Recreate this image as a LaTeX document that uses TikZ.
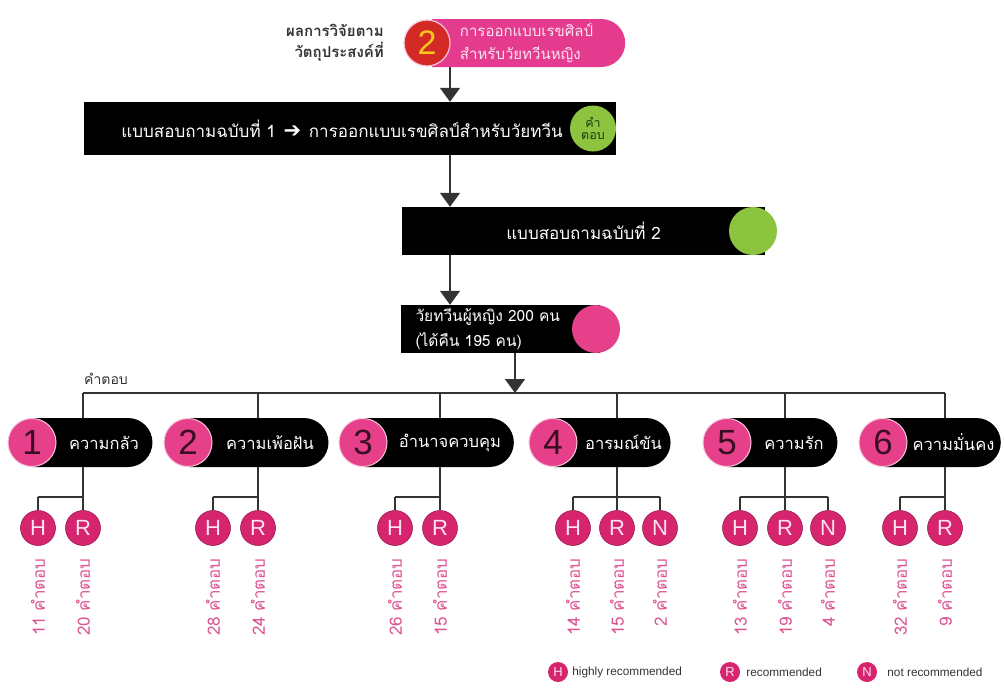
\documentclass[tikz,border=0pt]{standalone}
\usepackage{fontspec}
\setmainfont{Liberation Sans}
\newfontfamily\thai[Script=Thai]{Loma}
\newfontfamily\dejavu{DejaVu Sans}
\usetikzlibrary{arrows.meta,shapes.misc}

\definecolor{linegray}{HTML}{333333}
\definecolor{pillpink}{HTML}{E43B8E}
\definecolor{catpink}{HTML}{E6408B}
\definecolor{catedge}{HTML}{F7C6DC}
\definecolor{numdark}{HTML}{3A0E22}
\definecolor{anspink}{HTML}{D6246F}
\definecolor{ansedge}{HTML}{9C1A52}
\definecolor{anstext}{HTML}{FBE3EF}
\definecolor{countpink}{HTML}{DC5592}
\definecolor{leafgreen}{HTML}{8CC43F}
\definecolor{greentext}{HTML}{1F3A0C}
\definecolor{redball}{HTML}{D42A26}
\definecolor{goldnum}{HTML}{F7C81E}
\definecolor{labelgray}{HTML}{333333}
\definecolor{pilltext}{HTML}{FDE4F0}

\tikzset{
  link/.style={draw=linegray, line width=1.4pt},
  arr/.style={link, -{Triangle[width=20pt,length=14pt]}},
  blackbar/.style={fill=black, text=white, inner sep=0pt,
    font=\thai\fontsize{17}{20}\selectfont},
  catpill/.style={shape=rounded rectangle, rounded rectangle left arc=none,
    fill=black, text=white, minimum height=49pt, inner sep=0pt,
    font=\thai\fontsize{16.5}{18}\selectfont},
  catnum/.style={circle, fill=catpink, draw=catedge, line width=1pt,
    minimum size=48pt, inner sep=0pt, text=numdark,
    font=\fontsize{35}{35}\selectfont},
  answer/.style={circle, fill=anspink, draw=ansedge, line width=0.6pt,
    minimum size=35pt, inner sep=0pt, text=anstext,
    font=\fontsize{22}{22}\selectfont},
  count/.style={rotate=90, anchor=east, text=countpink, inner sep=0pt,
    font=\thai\fontsize{17}{19}\selectfont},
  legcirc/.style={circle, fill=anspink, minimum size=20pt, inner sep=0pt,
    text=anstext, font=\fontsize{13}{13}\selectfont},
  legtext/.style={anchor=west, inner sep=0pt, text=labelgray,
    font=\fontsize{11.8}{13}\selectfont},
}

\begin{document}
\begin{tikzpicture}[x=1pt,y=-1pt]
\useasboundingbox (0,0) rectangle (1004,688);

% ---- title block ----
\node[anchor=east, align=right, text=labelgray, inner sep=0pt,
  font=\thai\bfseries\fontsize{15}{21}\selectfont] (goal) at (384,43)
  {ผลการวิจัยตาม\\วัตถุประสงค์ที่};
\node[shape=rounded rectangle, rounded rectangle left arc=none,
  fill=pillpink, text=pilltext, minimum width=193pt, minimum height=48pt,
  inner sep=0pt, align=left, font=\thai\fontsize{15}{23}\selectfont]
  (title) at (523.5,43) {\hspace*{6pt}การออกแบบเรขศิลป์\\\hspace*{6pt}สำหรับวัยทวีนหญิง};
\node[circle, fill=redball, draw=catedge, line width=1.2pt, minimum size=46pt,
  inner sep=0pt, text=goldnum, font=\fontsize{34}{34}\selectfont]
  (tnum) at (427,43) {2};

\coordinate (trunk) at (450,0);

% ---- questionnaire 1 ----
\node[blackbar, minimum width=532pt, minimum height=53pt] (q1) at (350,128.5)
  {แบบสอบถามฉบับที่ 1 \hspace{2pt}{\dejavu\fontsize{21}{21}\selectfont ➔}\hspace{2pt} การออกแบบเรขศิลป์สำหรับวัยทวีน\hspace*{16pt}};
\node[circle, fill=leafgreen, minimum size=46pt, inner sep=0pt, align=center,
  text=greentext, font=\thai\fontsize{12.5}{12.5}\selectfont] (g1) at (593,128.5)
  {คำ\\ตอบ};

% ---- questionnaire 2 ----
\node[blackbar, minimum width=363pt, minimum height=48pt] (q2) at (583.5,231)
  {แบบสอบถามฉบับที่ 2};
\node[circle, fill=leafgreen, minimum size=48pt, inner sep=0pt] (g2) at (753,231) {};

% ---- respondents ----
\node[blackbar, minimum height=48pt, text width=170pt, inner xsep=14.5pt,
  align=left, font=\thai\fontsize{15.5}{25}\selectfont] (q3) at (500.5,329)
  {วัยทวีนผู้หญิง 200 คน\\(ได้คืน 195 คน)};
\node[circle, fill=catpink, minimum size=48pt, inner sep=0pt] (pc) at (596,329) {};

% ---- main trunk arrows ----
\draw[arr] (title.south -| trunk) -- (q1.north -| trunk);
\draw[arr] (q1.south -| trunk) -- (q2.north -| trunk);
\draw[arr] (q2.south -| trunk) -- (q3.north -| trunk);
\coordinate (bus) at (515,393);
\draw[arr] (q3.south -| bus) -- (bus);

\node[anchor=west, inner sep=0pt, text=labelgray,
  font=\thai\fontsize{14}{15}\selectfont] (anslabel) at (84,379) {คำตอบ};

% ---- six emotion categories ----
\foreach \i/\cx/\rx/\vx/\name in {
  1/32/152/83/ความกลัว,
  2/188/328/258/ความเพ้อฝัน,
  3/363/513/440/อำนาจควบคุม,
  4/553/670/617/อารมณ์ขัน,
  5/727/837/785/ความรัก,
  6/883/1000/945/ความมั่นคง}{
  \pgfmathsetmacro\pmid{(\cx+\rx)/2}
  \pgfmathsetmacro\pwd{\rx-\cx}
  \node[catpill, minimum width=\pwd pt] (p\i) at (\pmid,442.5) {\hspace*{24pt}\name};
  \node[catnum] (n\i) at (\cx,442.5) {\i};
  \coordinate (v\i) at (\vx,0);
  \coordinate (s\i) at (\vx,497);
  \draw[link] (bus -| v\i) -- (p\i.north -| v\i);
  \draw[link] (p\i.south -| v\i) -- (s\i);
}
\draw[link] (bus -| v1) -- (bus -| v6);

% ---- answer circles with counts ----
\foreach \g/\x/\l/\n in {
  1/38/H/11, 1/83/R/20,
  2/213/H/28, 2/258/R/24,
  3/395/H/26, 3/440/R/15,
  4/573/H/14, 4/617/R/15, 4/660/N/2,
  5/740/H/13, 5/785/R/19, 5/828/N/4,
  6/900/H/32, 6/945/R/9}{
  \node[answer] (a\g\l) at (\x,528) {\l};
  \draw[link] (a\g\l.north |- s\g) -- (a\g\l.north);
  \node[count] (c\g\l) at (\x,558) {\n\ คำตอบ};
}
\draw[link] (a1H.north |- s1) -- (s1);
\draw[link] (a2H.north |- s2) -- (s2);
\draw[link] (a3H.north |- s3) -- (s3);
\draw[link] (a4H.north |- s4) -- (a4N.north |- s4);
\draw[link] (a5H.north |- s5) -- (a5N.north |- s5);
\draw[link] (a6H.north |- s6) -- (s6);

% ---- legend ----
\node[legcirc] (kH) at (558,672) {H};
\node[legtext] (kHt) at ([xshift=4pt]kH.east) {highly recommended};
\node[legcirc] (kR) at (730,672) {R};
\node[legtext] (kRt) at ([xshift=6pt]kR.east) {recommended};
\node[legcirc] (kN) at (867,672) {N};
\node[legtext] (kNt) at ([xshift=10pt]kN.east) {not recommended};
\end{tikzpicture}
\end{document}
